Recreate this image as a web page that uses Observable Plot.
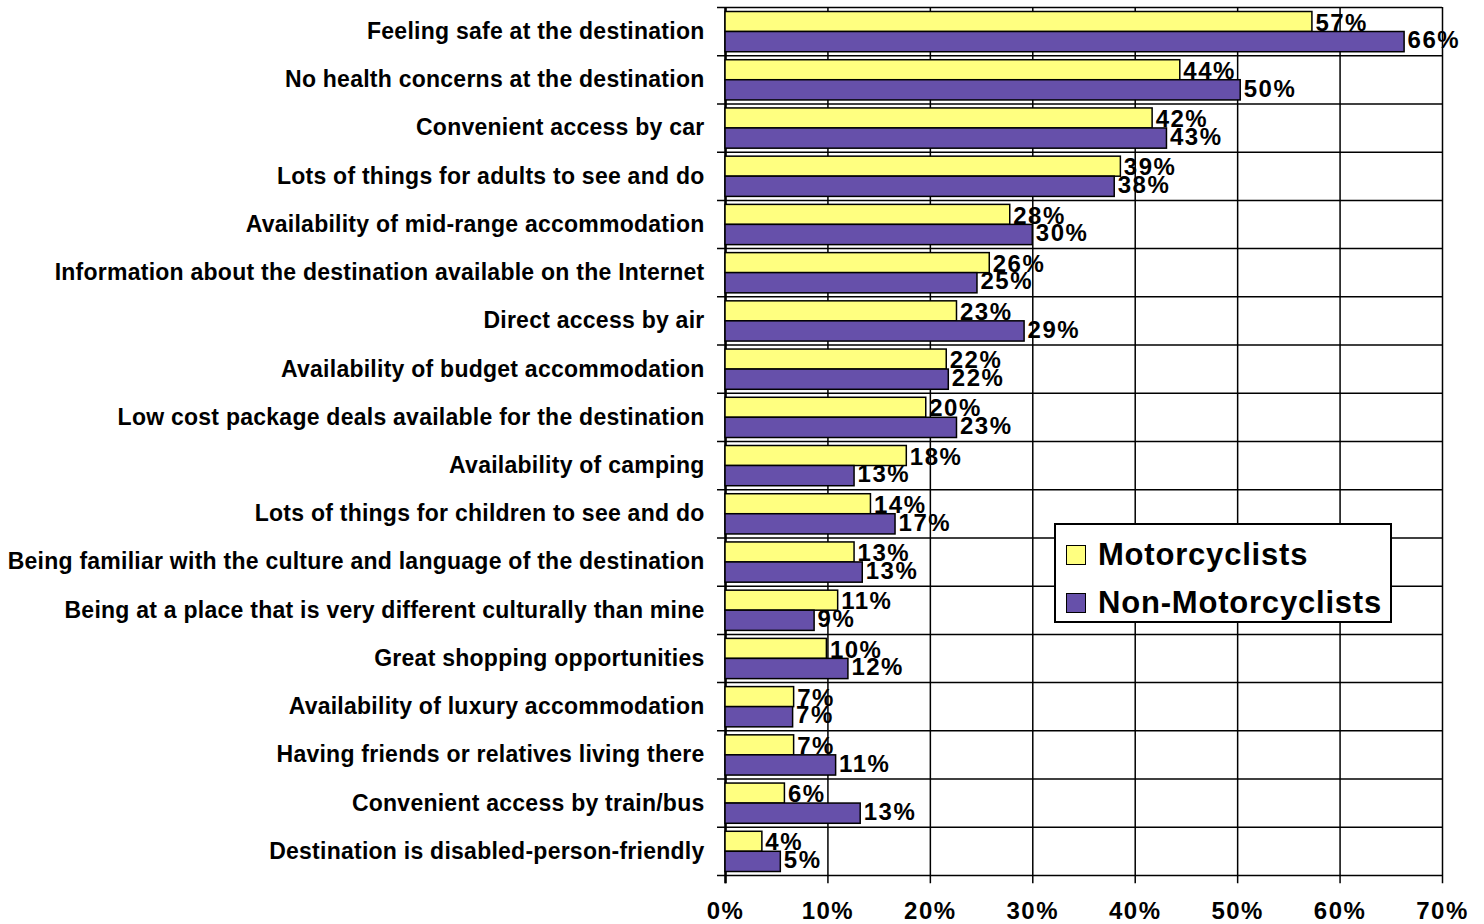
<!DOCTYPE html>
<html>
<head>
<meta charset="utf-8">
<script src="https://cdn.jsdelivr.net/npm/d3@7"></script>
<script src="https://cdn.jsdelivr.net/npm/@observablehq/plot@0.6"></script>
<style>
  html, body { margin: 0; padding: 0; background: #fff; }
  #wrap { position: relative; width: 1484px; height: 924px; font-family: "Liberation Sans", Arial, sans-serif; }
  #legend { position: absolute; left: 1054px; top: 523px; width: 334px; height: 96px; border: 2px solid #000; background: #fff; }
  .li { position: absolute; left: 10px; display: flex; align-items: center; font-weight: bold; font-size: 31px; color: #000; line-height: 36px; letter-spacing: 0.8px; }
  .sw { width: 18px; height: 18px; border: 1.5px solid #000; margin-right: 12px; }
</style>
</head>
<body>
<div id="wrap">
  <div id="chart"></div>
  <div id="legend"></div>
</div>
<script>
const categories = [
  "Feeling safe at the destination",
  "No health concerns at the destination",
  "Convenient access by car",
  "Lots of things for adults to see and do",
  "Availability of mid-range accommodation",
  "Information about the destination available on the Internet",
  "Direct access by air",
  "Availability of budget accommodation",
  "Low cost package deals available for the destination",
  "Availability of camping",
  "Lots of things for children to see and do",
  "Being familiar with the culture and language of the destination",
  "Being at a place that is very different culturally than mine",
  "Great shopping opportunities",
  "Availability of luxury accommodation",
  "Having friends or relatives living there",
  "Convenient access by train/bus",
  "Destination is disabled-person-friendly"
];
const motorcyclists = [57.3, 44.4, 41.7, 38.6, 27.8, 25.8, 22.6, 21.6, 19.6, 17.7, 14.2, 12.6, 11.0, 9.9, 6.7, 6.7, 5.8, 3.6];
const nonMotorcyclists = [66.3, 50.3, 43.1, 38.0, 30.0, 24.6, 29.2, 21.8, 22.6, 12.6, 16.6, 13.4, 8.7, 12.0, 6.6, 10.8, 13.2, 5.4];
const seriesNames = ["Motorcyclists", "Non-Motorcyclists"];
const seriesColors = ["#FFFF80", "#6650AA"];
const xTicks = [0, 10, 20, 30, 40, 50, 60, 70];

const rows = categories.map((c, i) => ({c, i, m: motorcyclists[i], n: nonMotorcyclists[i]}));
const boundaries = d3.range(categories.length + 1);
const N = categories.length;

const chart = Plot.plot({
  width: 1484,
  height: 924,
  marginLeft: 725,
  marginRight: 42,
  marginTop: 7,
  marginBottom: 49,
  style: {fontFamily: "'Liberation Sans', Arial, sans-serif", background: "#fff", color: "#000"},
  x: {domain: [0, 70], axis: null},
  y: {domain: [0, N], reverse: true, axis: null},
  marks: [
    Plot.ruleX(xTicks, {x: d => d, y1: 0, y2: N + 0.17, stroke: "#000", strokeWidth: 1.5}),
    Plot.ruleY(boundaries, {y: d => d, x1: -0.78, x2: 70, stroke: "#000", strokeWidth: 1.5}),
    Plot.ruleX([0], {x: d => d, y1: 0, y2: N + 0.17, stroke: "#000", strokeWidth: 2.5}),
    Plot.rectX(rows, {x1: d => 0, x2: d => d.m, y1: d => d.i, y2: d => d.i + 1, insetTop: 4.5, insetBottom: 23.7, fill: seriesColors[0], stroke: "#000", strokeWidth: 1.5}),
    Plot.rectX(rows, {x1: d => 0, x2: d => d.n, y1: d => d.i, y2: d => d.i + 1, insetTop: 24.5, insetBottom: 3.5, fill: seriesColors[1], stroke: "#000", strokeWidth: 1.5}),
    Plot.text(rows, {x: d => d.m, y: d => d.i + 0.5, text: d => Math.round(d.m) + "%", dx: 3, dy: -8.6, textAnchor: "start", fontWeight: "bold", fontSize: 24, fill: "#000"}),
    Plot.text(rows, {x: d => d.n, y: d => d.i + 0.5, text: d => Math.round(d.n) + "%", dx: 3, dy: 9, textAnchor: "start", fontWeight: "bold", fontSize: 24, fill: "#000"}),
    Plot.text(rows, {x: d => 0, y: d => d.i + 0.5, text: d => d.c, dx: -21, textAnchor: "end", fontWeight: "bold", fontSize: 23, fill: "#000"}),
    Plot.text(xTicks, {x: d => d, y: d => N, text: d => d + "%", dy: 36, textAnchor: "middle", fontWeight: "bold", fontSize: 24, fill: "#000"})
  ]
});
const textGroups = chart.querySelectorAll('g[aria-label="text"]');
const spacings = ["1.5px", "1.5px", "0.25px", "1.5px"];
textGroups.forEach((g, k) => { g.style.letterSpacing = spacings[k] || "0px"; });
document.getElementById("chart").appendChild(chart);

const legend = document.getElementById("legend");
seriesNames.forEach((name, k) => {
  const item = document.createElement("div");
  item.className = "li";
  item.style.top = (k === 0 ? 12 : 60) + "px";
  const sw = document.createElement("div");
  sw.className = "sw";
  sw.style.background = seriesColors[k];
  item.appendChild(sw);
  const t = document.createElement("span");
  t.textContent = name;
  item.appendChild(t);
  legend.appendChild(item);
});
</script>
</body>
</html>
